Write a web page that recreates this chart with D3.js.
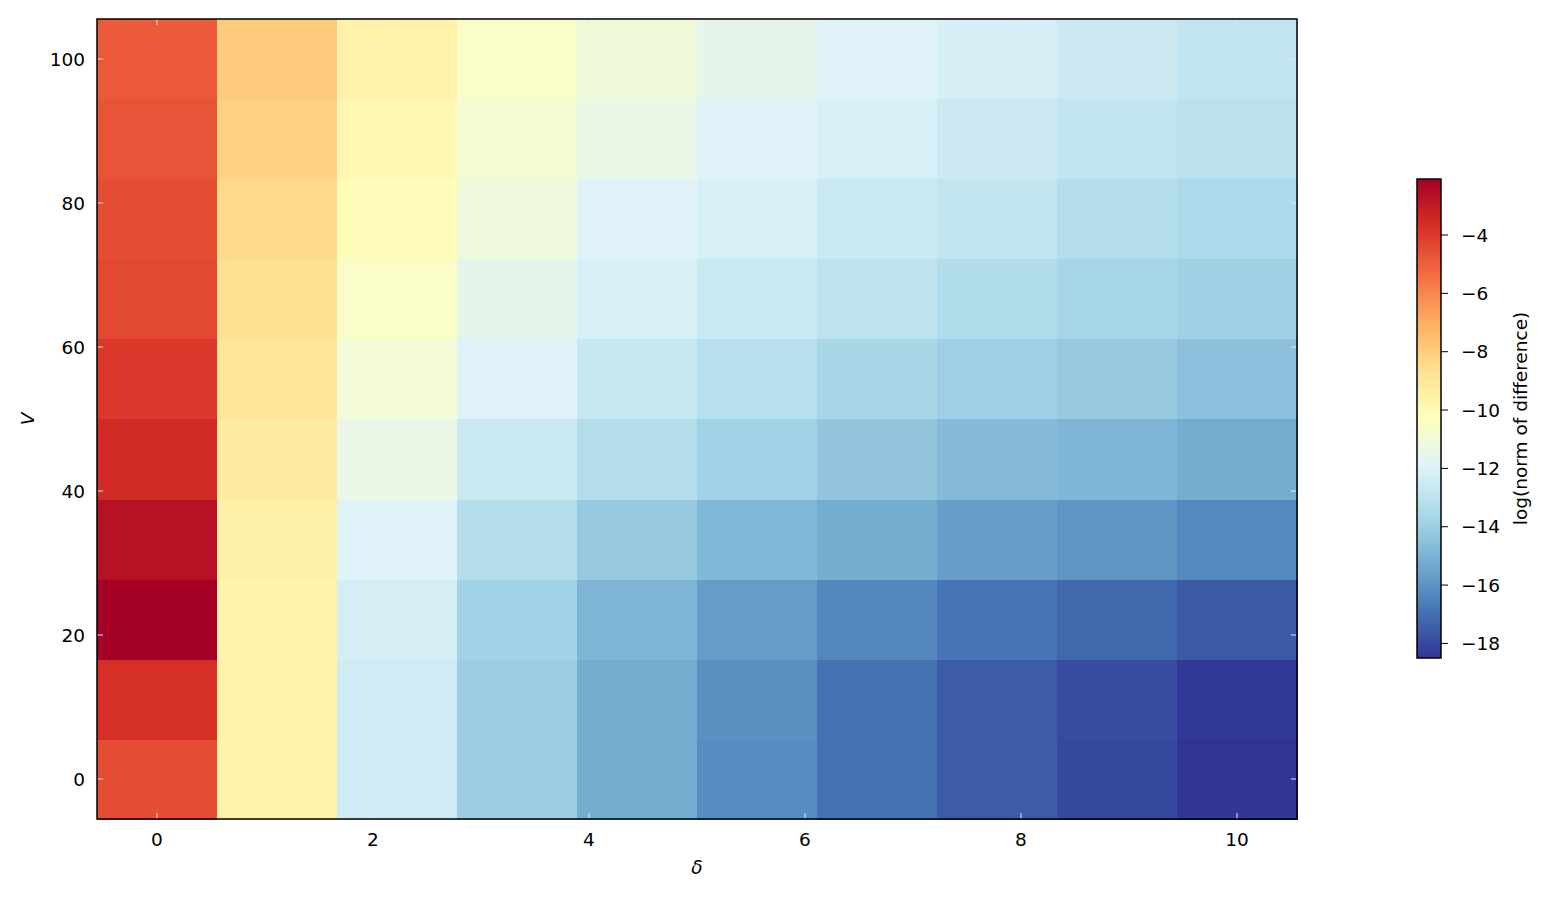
<!DOCTYPE html>
<html>
<head>
<meta charset="utf-8">
<script src="https://cdn.jsdelivr.net/npm/d3@7"></script>
<style>
body { margin: 0; background: #fff; }
svg { display: block; font-family: "DejaVu Sans", sans-serif; }
</style>
</head>
<body>
<svg id="chart" width="1551" height="898"></svg>
<script>
// δ values (columns) and V values (rows)
const deltaValues = [0, 1.111, 2.222, 3.333, 4.444, 5.556, 6.667, 7.778, 8.889, 10];
const vValues = [0, 11.11, 22.22, 33.33, 44.44, 55.56, 66.67, 77.78, 88.89, 100];
// log(norm of difference), one array per V row (bottom to top), across δ
const rowV0   = [-4.54, -9.6, -12.45, -14.05, -15.2, -16.2, -16.9, -17.5, -18.0, -18.5];
const rowV11  = [-3.7, -9.6, -12.45, -14.05, -15.2, -16.1, -16.9, -17.5, -17.95, -18.45];
const rowV22  = [-2.08, -9.6, -12.27, -13.84, -14.92, -15.7, -16.33, -16.86, -17.22, -17.6];
const rowV33  = [-2.67, -9.5, -11.96, -13.33, -14.16, -14.8, -15.2, -15.64, -15.92, -16.3];
const rowV44  = [-3.56, -9.22, -11.4, -12.6, -13.33, -13.84, -14.3, -14.7, -14.9, -15.2];
const rowV55  = [-3.94, -8.96, -10.98, -11.98, -12.7, -13.17, -13.64, -13.93, -14.2, -14.53];
const rowV66  = [-4.39, -8.7, -10.55, -11.6, -12.18, -12.6, -13.0, -13.4, -13.7, -13.9];
const rowV77  = [-4.54, -8.42, -10.13, -11.1, -11.93, -12.2, -12.62, -12.9, -13.26, -13.5];
const rowV88  = [-4.69, -8.16, -9.86, -10.82, -11.4, -11.93, -12.2, -12.55, -12.86, -13.1];
const rowV100 = [-4.85, -7.93, -9.6, -10.55, -11.08, -11.6, -11.96, -12.25, -12.55, -12.86];
const rows = [rowV0, rowV11, rowV22, rowV33, rowV44, rowV55, rowV66, rowV77, rowV88, rowV100];
const xTicks = [0, 2, 4, 6, 8, 10];
const yTicks = [0, 20, 40, 60, 80, 100];
const cbTicks = [-18, -16, -14, -12, -10, -8, -6, -4];
const vmin = -18.5, vmax = -2.08;

// RdYlBu reversed (matplotlib linear segmented)
const rdylbu = ["#a50026","#d73027","#f46d43","#fdae61","#fee090","#ffffbf","#e0f3f8","#abd9e9","#74add1","#4575b4","#313695"].reverse();
const color = d3.scaleLinear()
  .domain(d3.range(11).map(i => vmin + (vmax - vmin) * i / 10))
  .range(rdylbu)
  .interpolate(d3.interpolateRgb)
  .clamp(true);

const svg = d3.select("#chart");
const L = 97, R = 1297, T = 19, B = 819;
const dx = (deltaValues[1] - deltaValues[0]) / 2;
const dy = (vValues[1] - vValues[0]) / 2;
const x = d3.scaleLinear().domain([deltaValues[0] - dx, deltaValues[9] + dx]).range([L, R]);
const y = d3.scaleLinear().domain([vValues[0] - dy, vValues[9] + dy]).range([B, T]);

const cells = [];
rows.forEach((row, i) => row.forEach((v, j) => cells.push({d: deltaValues[j], V: vValues[i], v})));
svg.append("g").selectAll("rect").data(cells).join("rect")
  .attr("x", d => x(d.d - dx))
  .attr("y", d => y(d.V + dy))
  .attr("width", d => x(d.d + dx) - x(d.d - dx) + 0.5)
  .attr("height", d => y(d.V - dy) - y(d.V + dy) + 0.5)
  .attr("fill", d => color(d.v))
  .attr("shape-rendering", "crispEdges");

// axes with inward light ticks
const tickLen = 6;
const fs = 18.5;
const gx = svg.append("g");
xTicks.forEach(t => {
  gx.append("line").attr("x1", x(t)).attr("x2", x(t)).attr("y1", B).attr("y2", B - tickLen).attr("stroke", "#e8e8e8").attr("stroke-width", 1);
  gx.append("line").attr("x1", x(t)).attr("x2", x(t)).attr("y1", T).attr("y2", T + tickLen).attr("stroke", "#e8e8e8").attr("stroke-width", 1);
  gx.append("text").attr("x", x(t)).attr("y", 845.5).attr("text-anchor", "middle").attr("font-size", fs).text(t);
});
yTicks.forEach(t => {
  gx.append("line").attr("x1", L).attr("x2", L + tickLen).attr("y1", y(t)).attr("y2", y(t)).attr("stroke", "#e8e8e8").attr("stroke-width", 1);
  gx.append("line").attr("x1", R).attr("x2", R - tickLen).attr("y1", y(t)).attr("y2", y(t)).attr("stroke", "#e8e8e8").attr("stroke-width", 1);
  gx.append("text").attr("x", L - 12).attr("y", y(t)).attr("dy", "0.36em").attr("text-anchor", "end").attr("font-size", fs).text(t);
});
svg.append("rect").attr("x", L).attr("y", T).attr("width", R - L).attr("height", B - T)
  .attr("fill", "none").attr("stroke", "#000").attr("stroke-width", 1.5);

svg.append("text").attr("x", (L + R) / 2).attr("y", 874).attr("text-anchor", "middle")
  .attr("font-size", fs).attr("font-style", "italic").text("δ");
svg.append("text").attr("transform", `translate(34,${(T + B) / 2}) rotate(-90)`).attr("text-anchor", "middle")
  .attr("font-size", fs).attr("font-style", "italic").text("V");

// colorbar
const cbL = 1417, cbR = 1441, cbT = 179, cbB = 658;
const cy = d3.scaleLinear().domain([vmin, vmax]).range([cbB, cbT]);
const defs = svg.append("defs");
const grad = defs.append("linearGradient").attr("id", "cbgrad").attr("x1", 0).attr("y1", 1).attr("x2", 0).attr("y2", 0);
d3.range(0, 101).forEach(i => {
  const v = vmin + (vmax - vmin) * i / 100;
  grad.append("stop").attr("offset", i + "%").attr("stop-color", color(v));
});
svg.append("rect").attr("x", cbL).attr("y", cbT).attr("width", cbR - cbL).attr("height", cbB - cbT)
  .attr("fill", "url(#cbgrad)").attr("stroke", "#000").attr("stroke-width", 1.5);
cbTicks.forEach(t => {
  svg.append("line").attr("x1", cbR).attr("x2", cbR + 7).attr("y1", cy(t)).attr("y2", cy(t)).attr("stroke", "#000").attr("stroke-width", 1);
  svg.append("text").attr("x", 1461).attr("y", cy(t)).attr("dy", "0.36em").attr("font-size", fs).text("\u2212" + Math.abs(t));
});
svg.append("text").attr("transform", `translate(1527,${(cbT + cbB) / 2}) rotate(-90)`).attr("text-anchor", "middle")
  .attr("font-size", fs).text("log(norm of difference)");
</script>
</body>
</html>
